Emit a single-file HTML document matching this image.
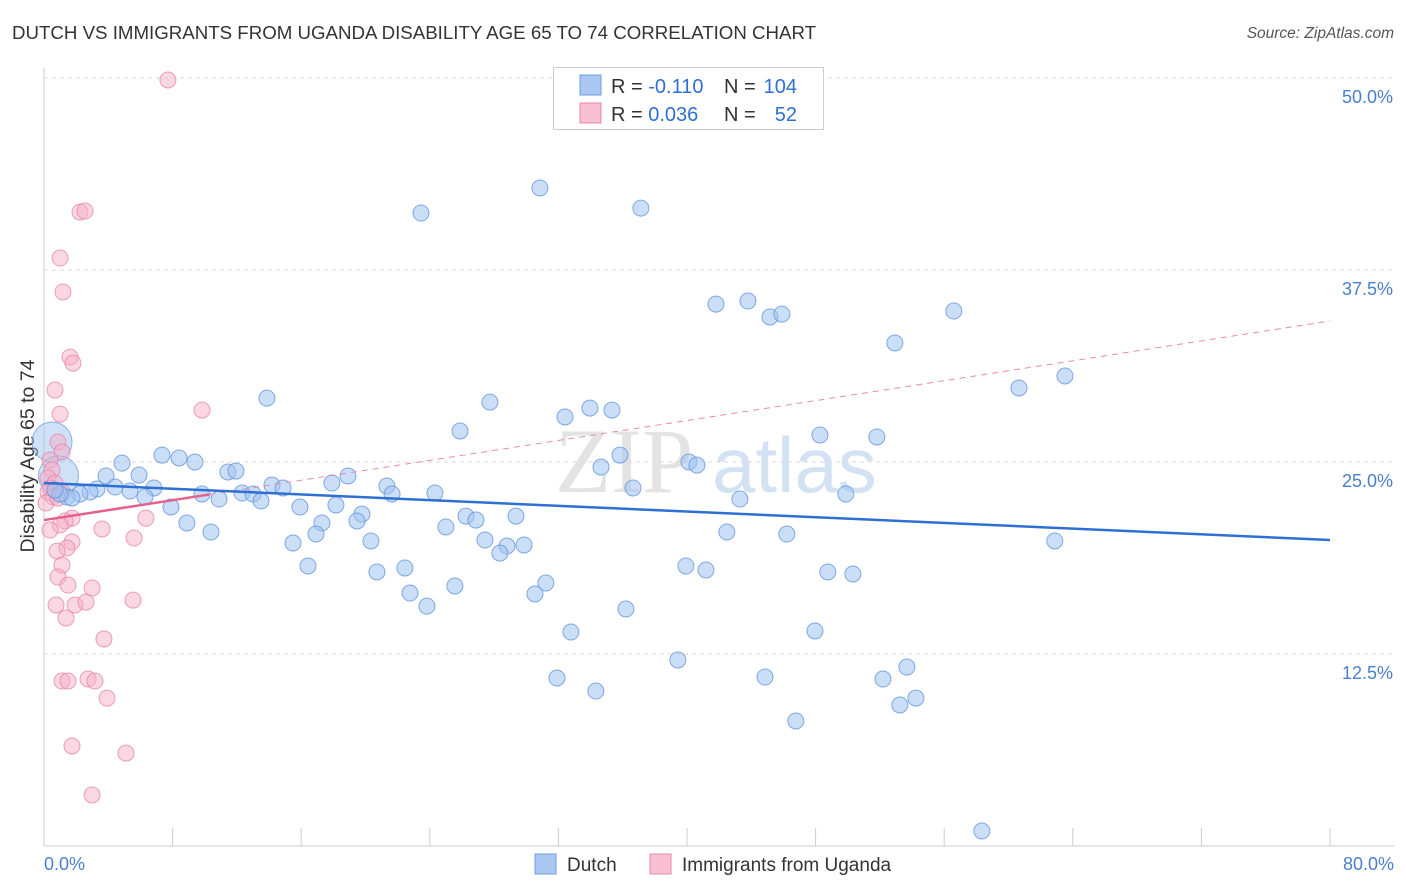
<!DOCTYPE html>
<html><head><meta charset="utf-8">
<style>
body{margin:0;background:#fff;font-family:"Liberation Sans",sans-serif;}
#wrap{position:relative;width:1406px;height:892px;overflow:hidden;}
.t{position:absolute;white-space:nowrap;}
</style></head>
<body>
<div id="wrap">
<div class="t" style="left:12px;top:22px;font-size:18.7px;color:#333;">DUTCH VS IMMIGRANTS FROM UGANDA DISABILITY AGE 65 TO 74 CORRELATION CHART</div>
<div class="t" style="right:12px;top:25px;font-size:15.5px;color:#555;font-style:italic;">Source: ZipAtlas.com</div>
<svg id="chart" width="1406" height="892" style="position:absolute;left:0;top:0"></svg>
</div>
<script>
const yTicks=[12.5,25,37.5,50];
const yTickLabels=["12.5%","25.0%","37.5%","50.0%"];
const xTickLabels=["0.0%","80.0%"];
const dutchX=[30.85,23.45,37.13,41.80,43.79,45.16,45.90,56.60,52.93,63.51,60.65,13.87,27.74,33.96,35.33,32.41,25.88,48.27,51.81,35.83,34.65,40.12,40.62,4.85,7.34,8.40,9.39,3.86,5.91,11.44,11.94,18.91,14.18,14.87,17.91,21.33,21.65,24.32,36.64,43.29,49.88,4.42,5.35,6.84,3.30,2.86,2.24,1.43,1.74,1.00,0.68,6.28,9.83,10.89,12.32,13.00,13.50,7.90,15.92,18.16,19.78,19.47,26.25,26.87,29.36,17.29,8.89,10.39,25.00,42.48,46.21,15.49,16.92,20.34,27.43,28.80,29.86,28.36,62.88,16.42,20.71,22.45,39.93,41.18,48.76,50.32,31.22,25.56,22.77,23.82,30.54,36.20,32.78,47.96,39.43,53.68,31.91,44.85,52.19,34.33,54.24,53.24,46.77,58.34];
const dutchY=[42.84,41.21,41.53,35.28,35.48,34.44,34.63,34.83,32.75,30.60,29.82,29.16,28.90,28.51,28.38,27.93,27.02,26.76,26.63,25.45,24.67,25.00,24.80,24.93,25.45,25.26,25.00,24.09,24.15,24.35,24.41,24.09,23.50,23.31,23.63,23.44,22.92,22.98,23.31,22.59,22.92,23.37,23.11,23.31,23.24,23.05,22.92,22.72,22.65,22.92,23.18,22.72,22.92,22.59,22.98,22.92,22.46,22.07,22.07,22.20,21.61,21.16,21.48,21.22,21.48,21.03,21.03,20.44,20.77,20.44,20.31,19.73,20.31,19.86,19.92,19.53,19.60,19.07,19.86,18.23,17.84,18.10,18.23,17.97,17.84,17.71,17.12,16.93,16.47,15.62,16.41,15.43,13.93,14.00,12.11,11.65,10.94,11.00,10.87,10.09,9.63,9.18,8.14,0.98];
const dutchBigX=[0.5,0.9];
const dutchBigY=[26.3,24.1];
const ugX=[7.71,2.24,2.55,1.00,1.18,1.62,1.80,0.68,9.83,1.00,0.87,1.12,0.37,0.50,0.25,0.68,0.37,0.25,0.56,0.12,0.87,1.18,6.34,1.74,1.31,1.00,0.37,3.61,5.60,1.74,1.43,0.81,1.12,0.87,1.49,2.99,5.54,0.75,1.93,2.61,1.37,3.73,1.12,1.49,2.74,3.17,3.92,1.74,5.10,2.99];
const ugY=[49.87,41.27,41.34,38.28,36.07,31.83,31.44,29.69,28.38,28.12,26.30,25.65,25.13,24.48,23.96,23.63,23.31,23.05,22.72,22.33,22.65,22.98,21.35,21.35,21.16,20.90,20.57,20.64,20.05,19.79,19.40,19.20,18.29,17.51,16.99,16.80,16.01,15.69,15.69,15.88,14.84,13.48,10.74,10.74,10.87,10.74,9.63,6.51,6.05,3.32];
const dutchTrend=[23.63,19.92];
const ugTrend=[21.22,34.18];
const ugSolidEnd=10.3;

const X0=44,X1=1330,Y0=846;
const sx=v=>X0+(X1-X0)*v/80;
const sy=v=>Y0-v*15.36;
const svg=document.getElementById('chart');
const NS='http://www.w3.org/2000/svg';
function mk(tag,at){const e=document.createElementNS(NS,tag);for(const k in at)e.setAttribute(k,at[k]);svg.appendChild(e);return e;}

let wm=mk('text',{x:555,y:492,'font-size':92,'font-family':'Liberation Serif, serif',fill:'#e3e3e3'});
wm.textContent='ZIP';


let wm2=mk('text',{x:712,y:492,'font-size':78,'font-family':'Liberation Sans, sans-serif',fill:'#d3e2f3'});
wm2.textContent='atlas';



yTicks.forEach((v,i)=>{
  const g=mk('line',{x1:X0,x2:1394,y1:sy(v),y2:sy(v),stroke:'#d8d8d8','stroke-dasharray':'4,4','stroke-width':1});
  
  
  const t=mk('text',{x:1393,y:sy(v)+25,'text-anchor':'end','font-size':18,fill:'#4a7fd0','font-family':'Liberation Sans, sans-serif'});
  t.textContent=yTickLabels[i];
  
  
});
let ax=mk('line',{x1:X0,x2:1394,y1:Y0,y2:Y0,stroke:'#ccc'});


let ay=mk('line',{x1:X0,x2:X0,y1:68,y2:Y0,stroke:'#ccc'});


for(let i=0;i<=10;i++){
  const tk=mk('line',{x1:sx(i*8),x2:sx(i*8),y1:828,y2:Y0,stroke:'#ccc'});
  
  
}
[[0,'start',44],[80,'end',1394]].forEach((d,i)=>{
  const t=mk('text',{x:d[2],y:870,'text-anchor':d[1],'font-size':18,fill:'#4a7fd0','font-family':'Liberation Sans, sans-serif'});
  t.textContent=xTickLabels[i];
  
  
});
let yt=mk('text',{x:0,y:0,'font-size':19.5,fill:'#333','text-anchor':'middle',transform:'translate(34,456) rotate(-90)','font-family':'Liberation Sans, sans-serif'});
yt.textContent='Disability Age 65 to 74';



dutchBigX.forEach((x,i)=>{
  const c=mk('circle',{cx:sx(x),cy:sy(dutchBigY[i]),r:20,fill:'rgba(160,195,240,0.5)',stroke:'rgba(100,150,220,0.7)','stroke-width':1});
  
  
});
ugX.forEach((x,i)=>{
  const c=mk('circle',{cx:sx(x),cy:sy(ugY[i]),r:8,fill:'rgba(245,175,200,0.5)',stroke:'rgba(230,130,165,0.75)','stroke-width':1});
  
  
});
dutchX.forEach((x,i)=>{
  const c=mk('circle',{cx:sx(x),cy:sy(dutchY[i]),r:8,fill:'rgba(160,195,240,0.55)',stroke:'rgba(100,150,220,0.8)','stroke-width':1});
  
  
});
const ugAt=x=>ugTrend[0]+(ugTrend[1]-ugTrend[0])*x/80;
let l1=mk('line',{x1:sx(ugSolidEnd),y1:sy(ugAt(ugSolidEnd)),x2:sx(80),y2:sy(ugTrend[1]),stroke:'#e98aa8','stroke-width':1,'stroke-dasharray':'6,5'});


let l2=mk('line',{x1:sx(0),y1:sy(ugTrend[0]),x2:sx(ugSolidEnd),y2:sy(ugAt(ugSolidEnd)),stroke:'#e5608a','stroke-width':2.5});


let l3=mk('line',{x1:sx(0),y1:sy(dutchTrend[0]),x2:sx(80),y2:sy(dutchTrend[1]),stroke:'#2e6fd3','stroke-width':2.5});



let lb=mk('rect',{x:553.5,y:67.5,width:270,height:62,fill:'#fff',stroke:'#ccc'});


[[85,'#a9c7f0','#6a9fdc','-0.110','104'],[113,'#f8c0d2','#e88aa8','0.036','52']].forEach(r=>{
  const s=mk('rect',{x:580,y:r[0]-10,width:21,height:20,fill:r[1],stroke:r[2]});
  
  
  const t=mk('text',{x:611,y:r[0]+8,'font-size':20,fill:'#333','font-family':'Liberation Sans, sans-serif'});
  t.innerHTML='R = <tspan fill="#2f6fd4">'+r[3]+'</tspan>';
  
  
  const n=mk('text',{x:724,y:r[0]+8,'font-size':20,fill:'#333','font-family':'Liberation Sans, sans-serif'});
  n.innerHTML='N = <tspan fill="#2f6fd4" x="797" text-anchor="end">'+r[4]+'</tspan>';
  
  
});
[[535,'#a9c7f0','#6a9fdc','Dutch'],[650,'#f8c0d2','#e88aa8','Immigrants from Uganda']].forEach(r=>{
  const s=mk('rect',{x:r[0],y:854,width:21,height:20,fill:r[1],stroke:r[2]});
  
  
  const t=mk('text',{x:r[0]+32,y:871,'font-size':19,fill:'#333','font-family':'Liberation Sans, sans-serif'});
  t.textContent=r[3];
  
  
});
</script>
</body></html>
